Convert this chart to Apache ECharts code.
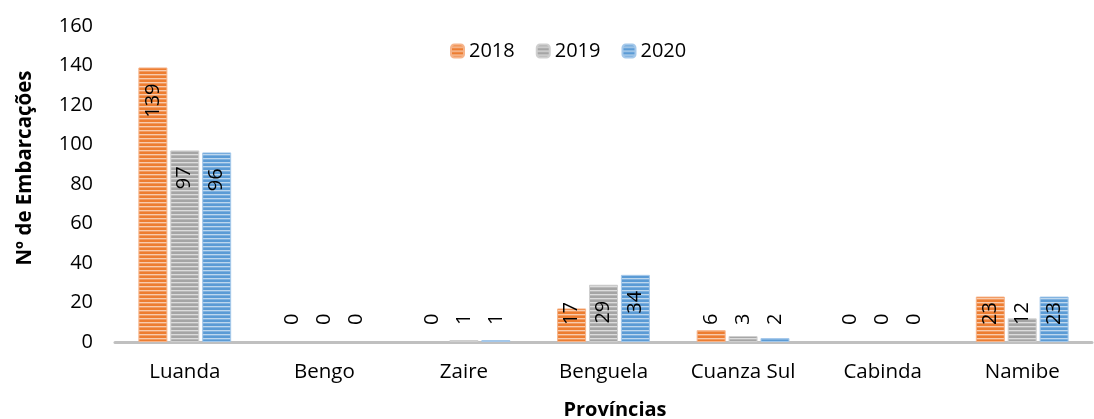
<!DOCTYPE html>
<html>
<head>
<meta charset="utf-8">
<script src="https://cdn.jsdelivr.net/npm/echarts@6/dist/echarts.min.js"></script>
<style>
    html, body { margin: 0; padding: 0; background: #fff; }
    #chartsmain { width: 1094px; height: 419px; }
</style>
</head>
<body>
<div id="chartsmain"></div>
<script>
    var provincias = ['Luanda', 'Bengo', 'Zaire', 'Benguela', 'Cuanza Sul', 'Cabinda', 'Namibe'];
    var anos = ['2018', '2019', '2020'];
    var v2018 = [139, 0, 0, 17, 6, 0, 23];
    var v2019 = [97, 0, 1, 29, 3, 0, 12];
    var v2020 = [96, 0, 1, 34, 2, 0, 23];

    var fonte = '"Open Sans", "Noto Sans", sans-serif';

    // padrao de listras horizontais (como no Excel)
    function listras(escuro, claro, medio) {
        var c = document.createElement('canvas');
        c.width = 4; c.height = 4;
        var g = c.getContext('2d');
        g.fillStyle = escuro; g.fillRect(0, 0, 4, 4);
        g.fillStyle = claro; g.fillRect(0, 2, 4, 1);
        g.fillStyle = medio; g.fillRect(0, 3, 4, 1);
        return { image: c, repeat: 'repeat' };
    }

    function rotulos(vals) {
        return vals.map(function (v) {
            var item = { value: v };
            if (v >= 29) {
                item.label = { position: 'insideTop', distance: 16, align: 'right' };
            } else {
                item.label = { position: 'insideBottom', distance: 17, align: 'left' };
            }
            if (v === 0) item.itemStyle = { borderWidth: 0 };
            return item;
        });
    }

    function serie(nome, vals, cor, borda) {
        return {
            name: nome,
            type: 'bar',
            barWidth: 29,
            barGap: '10%',
            data: rotulos(vals),
            itemStyle: { color: cor, borderColor: borda, borderWidth: 1 },
            label: {
                show: true,
                rotate: 90,
                verticalAlign: 'middle',
                color: '#000',
                fontSize: 20,
                fontFamily: fonte
            }
        };
    }

    var chart = echarts.init(document.getElementById('chartsmain'));
    var option = {
        animation: false,
        textStyle: { fontFamily: fonte },
        grid: { left: 115, right: 2, top: 26, bottom: 77 },
        legend: {
            data: anos,
            top: 36,
            left: 445,
            itemWidth: 13,
            itemHeight: 13,
            itemGap: 21,
            textStyle: { fontSize: 20, color: '#000', fontFamily: fonte, padding: [0, 0, 0, 0] }
        },
        xAxis: {
            type: 'category',
            data: provincias,
            axisLine: { lineStyle: { color: '#c0c0c0', width: 3 } },
            axisTick: { show: false },
            axisLabel: { fontSize: 20.5, color: '#000', margin: 20, fontFamily: fonte }
        },
        yAxis: {
            type: 'value',
            min: 0,
            max: 160,
            interval: 20,
            axisLine: { show: false },
            axisTick: { show: false },
            splitLine: { show: false },
            axisLabel: { fontSize: 20, color: '#000', margin: 22, fontFamily: fonte }
        },
        graphic: [
            {
                type: 'text',
                x: 25, y: 168,
                rotation: Math.PI / 2,
                style: {
                    text: 'Nº de Embarcações',
                    font: 'bold 20.5px ' + fonte,
                    fill: '#000',
                    align: 'center',
                    verticalAlign: 'middle'
                }
            },
            {
                type: 'text',
                x: 615, y: 410,
                style: {
                    text: 'Províncias',
                    font: 'bold 20px ' + fonte,
                    fill: '#000',
                    align: 'center',
                    verticalAlign: 'middle'
                }
            }
        ],
        series: [
            serie('2018', v2018, listras('#ED7D31', '#F8CBAD', '#F19A60'), '#F6B48A'),
            serie('2019', v2019, listras('#A5A5A5', '#DCDCDC', '#B8B8B8'), '#CFCFCF'),
            serie('2020', v2020, listras('#5B9BD5', '#BDD7EE', '#7DB0DF'), '#A4C8EA')
        ]
    };
    chart.setOption(option);
</script>
</body>
</html>
